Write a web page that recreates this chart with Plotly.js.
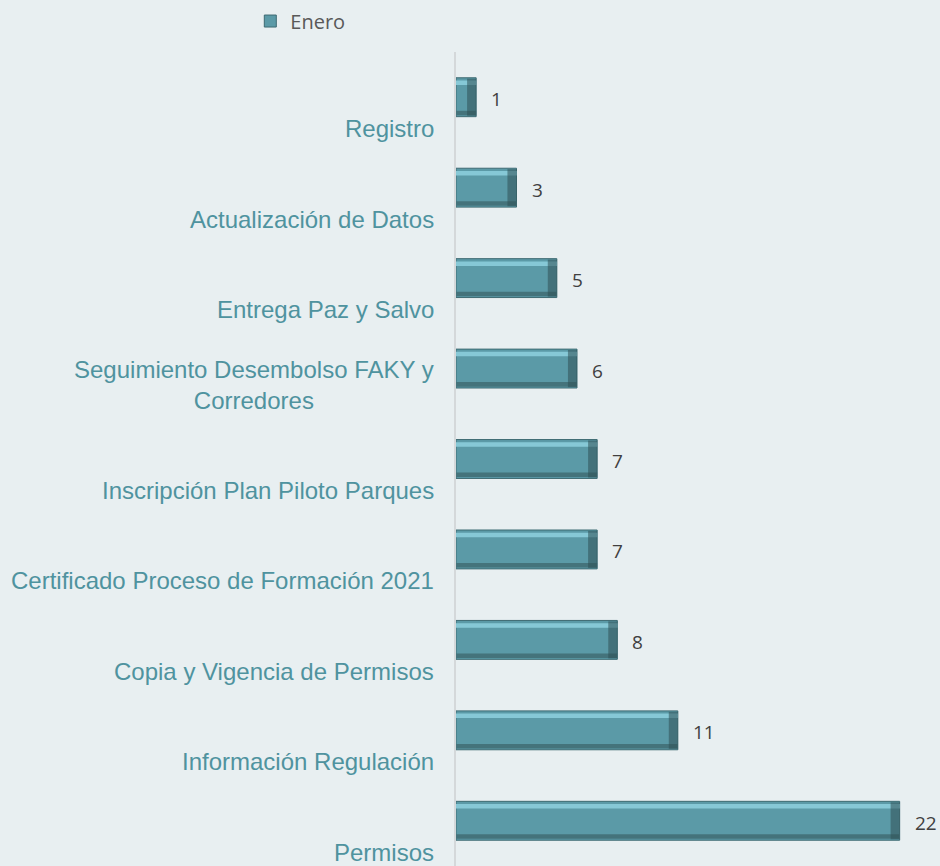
<!DOCTYPE html>
<html>
<head>
<meta charset="utf-8">
<script src="https://cdn.plot.ly/plotly-3.0.1.min.js"></script>
<style>html,body{margin:0;padding:0;background:#e8eff1;}#chart{width:940px;height:866px;}</style>
</head>
<body>
<div id="chart"></div>
<script>
const categories = [
  "Registro",
  "Actualización de Datos",
  "Entrega Paz y Salvo",
  "Seguimiento Desembolso FAKY y<br>Corredores",
  "Inscripción Plan Piloto Parques",
  "Certificado Proceso de Formación 2021",
  "Copia y Vigencia de Permisos",
  "Información Regulación",
  "Permisos"
];
const values = [1, 3, 5, 6, 7, 7, 8, 11, 22];
const seriesName = "Enero";

const ids = categories.map((c, i) => i);

const base = {
  type: 'bar', orientation: 'h', name: seriesName,
  x: values, y: ids, width: 0.43, offset: -0.215,
  marker: {color: '#5b9aa7', line: {color: '#3d6a72', width: 1}},
  hoverinfo: 'x'
};
const hi = {
  type: 'bar', orientation: 'h', showlegend: false, hoverinfo: 'skip',
  x: values, y: ids, width: 0.05, offset: -0.185,
  marker: {color: '#86c8d6', line: {width: 0}}
};
const lo = {
  type: 'bar', orientation: 'h', showlegend: false, hoverinfo: 'skip',
  x: values, y: ids, width: 0.05, offset: 0.15,
  marker: {color: '#44737b', line: {width: 0}}
};
const cap = {
  type: 'bar', orientation: 'h', showlegend: false, hoverinfo: 'skip',
  x: values.map(() => 0.45), base: values.map(v => v - 0.45), y: ids, width: 0.41, offset: -0.205,
  marker: {color: '#2f5056', opacity: 0.55, line: {width: 0}}
};

const labelFont = {family: 'Arial', size: 24, color: '#4f939f'};
const valueFont = {family: 'Open Sans', size: 19, color: '#404040'};

const annotations = [];
categories.forEach((c, i) => {
  annotations.push({
    xref: 'paper', x: 0, xanchor: 'right', xshift: -20,
    yref: 'y', y: i, yanchor: 'bottom', yshift: -47,
    text: c, showarrow: false, align: 'center',
    font: labelFont
  });
  annotations.push({
    xref: 'x', x: values[i], xanchor: 'left', xshift: 13,
    yref: 'y', y: i, yanchor: 'middle', yshift: -2,
    text: String(values[i]), showarrow: false,
    font: valueFont
  });
});

const layout = {
  width: 940, height: 866,
  paper_bgcolor: '#e8eff1', plot_bgcolor: '#e8eff1',
  margin: {l: 456, r: 0, t: 52, b: 0, pad: 0},
  barmode: 'overlay',
  showlegend: true,
  legend: {orientation: 'h', x: -0.425, xanchor: 'left', y: 1.062, yanchor: 'top',
    font: {family: 'Open Sans', size: 20, color: '#595959'},
    itemwidth: 30, bgcolor: 'rgba(0,0,0,0)'},
  xaxis: {range: [0, 24], showgrid: false, zeroline: false, showticklabels: false, showline: false, fixedrange: true},
  yaxis: {range: [8.5, -0.5], tickvals: ids, showticklabels: false, showgrid: false, zeroline: false,
    showline: true, linecolor: '#d4d8da', linewidth: 2, ticks: '', fixedrange: true},
  annotations: annotations
};

Plotly.newPlot('chart', [base, hi, lo, cap], layout, {displayModeBar: false, staticPlot: true});
</script>
</body>
</html>
